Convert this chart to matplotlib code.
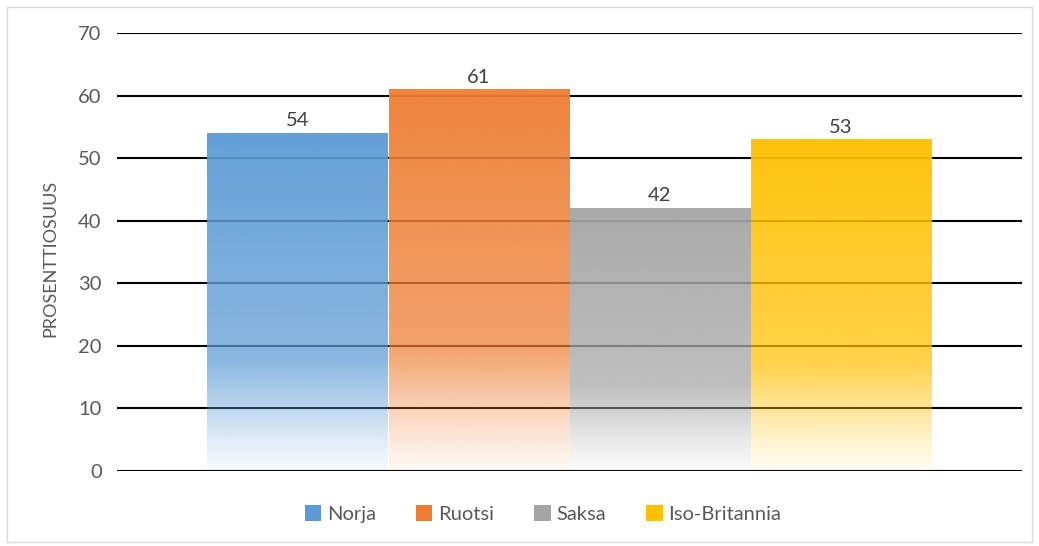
import numpy as np
import matplotlib
matplotlib.use('Agg')
import matplotlib.pyplot as plt
from matplotlib.patches import Patch, Rectangle
from matplotlib.colors import to_rgb

# --- data ---
countries = ['Norja', 'Ruotsi', 'Saksa', 'Iso-Britannia']
values = [54, 61, 42, 53]
colors = ['#5B9BD5', '#ED7D31', '#A5A5A5', '#FFC000']
y_ticks = [0, 10, 20, 30, 40, 50, 60, 70]

plt.rcParams['font.family'] = ['Lato', 'DejaVu Sans']
TXT = '#595959'

fig = plt.figure(figsize=(10.39, 5.46), dpi=100)
ax = fig.add_axes([117 / 1039, 1 - 471 / 546, (1022 - 117) / 1039, (471 - 33) / 546])

# outer frame of the chart area
fig.patches.append(Rectangle((7 / 1039, 4 / 546), 1 - 14 / 1039, 1 - 11 / 546,
                             transform=fig.transFigure, fill=False,
                             edgecolor='#D9D9D9', linewidth=1))

# gridlines under the (semi transparent) bars
for t in y_ticks:
    ax.axhline(t, color='black', linewidth=1.5, zorder=1)

# vertical gradient: alpha by fraction of bar height from the bottom
t_stops = [0.0, 0.12, 0.25, 0.33, 1.0]
a_stops = [0.04, 0.25, 0.55, 0.72, 0.95]
grad = np.linspace(0, 1, 300)
alpha = np.interp(grad, t_stops, a_stops)

width = 0.2
xs = (np.arange(len(values)) - (len(values) - 1) / 2) * width
for x, v, c in zip(xs, values, colors):
    img = np.zeros((len(grad), 1, 4))
    img[:, 0, :3] = to_rgb(c)
    img[:, 0, 3] = alpha
    ax.imshow(img, extent=[x - width / 2, x + width / 2, 0, v], origin='lower',
              aspect='auto', interpolation='bilinear', zorder=2)
    ax.text(x, v + 0.6, str(v), ha='center', va='bottom', fontsize=14.5, color='#404040')

ax.set_xlim(-0.5, 0.5)
ax.set_ylim(0, 70)
ax.set_yticks(y_ticks)
ax.set_xticks([])
ax.tick_params(axis='y', length=0, labelsize=14.5, labelcolor=TXT, pad=11)
for s in ax.spines.values():
    s.set_visible(False)

fig.text(50 / 1039, 1 - 258 / 546, 'PROSENTTIOSUUS', rotation=90, ha='center', va='center',
         fontsize=13, color=TXT)

handles = [Patch(facecolor=c, edgecolor='none') for c in colors]
fig.legend(handles, countries, loc='center', bbox_to_anchor=(543 / 1039, 1 - 514 / 546),
           ncol=4, frameon=False, fontsize=14.5, labelcolor=TXT, handlelength=0.8,
           handleheight=0.8, handletextpad=0.3, columnspacing=2.0)

fig.savefig('out.png', dpi=100)
